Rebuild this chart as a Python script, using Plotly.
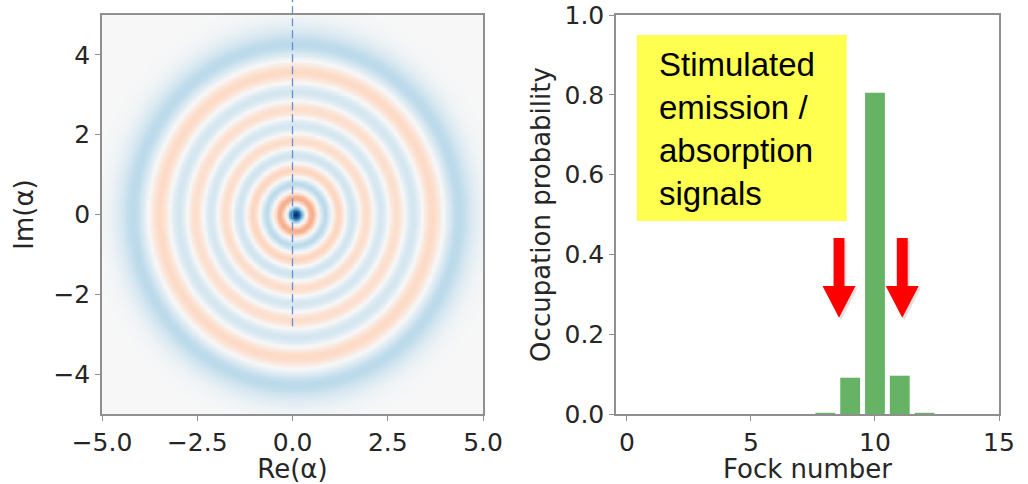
import numpy as np
import plotly.graph_objects as go
from numpy.polynomial import laguerre

# ---------------- data ----------------
fock_numbers = list(range(0, 16))
occupation = [0, 0, 0, 0, 0, 0, 0, 0, 0.003, 0.091, 0.805, 0.096, 0.003, 0, 0, 0]
x_ticks_left = [-5, -2.5, 0, 2.5, 5]
x_ticklabels_left = ["\u22125.0", "\u22122.5", "0.0", "2.5", "5.0"]
y_ticks_left = [-4, -2, 0, 2, 4]
y_ticklabels_left = ["\u22124", "\u22122", "0", "2", "4"]
x_ticks_right = [0, 5, 10, 15]
y_ticks_right = [0, 0.2, 0.4, 0.6, 0.8, 1.0]
y_ticklabels_right = ["0.0", "0.2", "0.4", "0.6", "0.8", "1.0"]
displacement_re = 0.08          # small offset of the state centre
arrow_centres = [8.55, 11.1]    # Fock-number positions of the red arrows
box_lines = ["Stimulated", "emission /", "absorption", "signals"]

# ---------------- Wigner function of the Fock mixture ----------------
xvec = np.linspace(-5, 5, 241)
yvec = np.linspace(-5, 5, 241)
X, Y = np.meshgrid(xvec, yvec)
R2 = (X - displacement_re) ** 2 + Y ** 2
W = np.zeros_like(X)
for n, p in zip(fock_numbers, occupation):
    if p == 0:
        continue
    c = np.zeros(n + 1)
    c[n] = 1.0
    W += p * ((-1) ** n / np.pi) * np.exp(-R2) * laguerre.lagval(2 * R2, c)
vmax = np.abs(W).max()

# RdBu (colorbrewer) with slightly softened mid-range
rdbu = ["#67001f", "#b2182b", "#d6604d", "#f4a582", "#fddbc7", "#f7f7f7",
        "#d1e5f0", "#92c5de", "#4393c3", "#2166ac", "#053061"]
rgb = np.array([[int(h[i:i + 2], 16) for i in (1, 3, 5)] for h in rdbu], float)
base_pos = np.linspace(0, 1, len(rdbu))
colorscale = []
for p in np.linspace(0, 1, 41):
    s = 2 * p - 1
    q = 0.5 + 0.5 * np.sign(s) * abs(s) ** 1.12
    col = [np.interp(q, base_pos, rgb[:, k]) for k in range(3)]
    colorscale.append([float(p), "rgb(%d,%d,%d)" % tuple(int(round(v)) for v in col)])

W_PX, H_PX = 1028, 484
xdom_l = [102 / W_PX, 483 / W_PX]
xdom_r = [616 / W_PX, 999 / W_PX]
ydom = [(H_PX - 414) / H_PX, (H_PX - 15) / H_PX]

tick_font = dict(family="DejaVu Sans", size=25, color="#262626")
title_font = dict(family="DejaVu Sans", size=26, color="#262626")
spine = "#8f8f8f"

fig = go.Figure()
fig.add_trace(go.Heatmap(x=xvec, y=yvec, z=W, colorscale=colorscale,
                         zmin=-vmax, zmax=vmax, showscale=False, zsmooth="best",
                         xaxis="x", yaxis="y", hoverinfo="skip"))
fig.add_trace(go.Bar(x=fock_numbers, y=occupation, width=0.8,
                     marker=dict(color="rgba(0,128,0,0.6)", line=dict(width=0)),
                     xaxis="x2", yaxis="y2"))

common = dict(showgrid=False, zeroline=False, showline=True, mirror=True,
              linecolor=spine, linewidth=1.5, ticks="outside", ticklen=5,
              tickcolor=spine, tickwidth=1.2, tickfont=tick_font, automargin=False)

fig.update_layout(
    template="none",
    width=W_PX, height=H_PX, margin=dict(l=0, r=0, t=0, b=0),
    paper_bgcolor="white", plot_bgcolor="white", showlegend=False,
    xaxis=dict(domain=xdom_l, range=[-5, 5], tickvals=x_ticks_left,
               ticktext=x_ticklabels_left, anchor="y",
               title=dict(text="Re(\u03b1)", font=title_font, standoff=6), **common),
    yaxis=dict(domain=ydom, range=[-5, 5], tickvals=y_ticks_left,
               ticktext=y_ticklabels_left, anchor="x",
               title=dict(text="Im(\u03b1)", font=title_font, standoff=12), **common),
    xaxis2=dict(domain=xdom_r, range=[-0.44, 15], tickvals=x_ticks_right,
                anchor="y2",
                title=dict(text="Fock number", font=title_font, standoff=6), **common),
    yaxis2=dict(domain=ydom, range=[0, 1], tickvals=y_ticks_right,
                ticktext=y_ticklabels_right, anchor="x2",
                title=dict(text="Occupation probability", font=title_font, standoff=6),
                **common),
)

# dashed vertical guide line in the Wigner plot
ypaper = lambda v: ydom[0] + (v + 5) / 10 * (ydom[1] - ydom[0])
fig.add_shape(type="line", xref="x", yref="paper", x0=0, x1=0,
              y0=ypaper(-2.8), y1=1.0,
              line=dict(color="rgb(105,140,210)", width=1.3, dash="8px,4px"))

# yellow text box
fig.add_shape(type="rect", xref="x2", yref="y2", x0=0.40, x1=8.86, y0=0.484, y1=0.95,
              fillcolor="#ffff50", line=dict(width=0), layer="above")
fig.add_annotation(xref="x2", yref="y2", x=1.22, y=0.715, xanchor="left", yanchor="middle",
                   align="left", showarrow=False, text="<br>".join(box_lines),
                   font=dict(family="Liberation Sans", size=33, color="black"))

# red arrows (with a faint drop shadow)
def arrow_path(c, dx=0.0, dy=0.0):
    sw, hw = 0.22, 0.665
    y_top, y_head, y_tip = 0.441 + dy, 0.321 + dy, 0.241 + dy
    c = c + dx
    return (f"M {c-sw},{y_top} L {c+sw},{y_top} L {c+sw},{y_head} L {c+hw},{y_head} "
            f"L {c},{y_tip} L {c-hw},{y_head} L {c-sw},{y_head} Z")

for c in arrow_centres:
    fig.add_shape(type="path", xref="x2", yref="y2", path=arrow_path(c, 0.08, -0.006),
                  fillcolor="rgba(0,0,0,0.13)", line=dict(width=0), layer="above")
    fig.add_shape(type="path", xref="x2", yref="y2", path=arrow_path(c),
                  fillcolor="#ff0000", line=dict(width=0), layer="above")

fig.write_html("out.html")
